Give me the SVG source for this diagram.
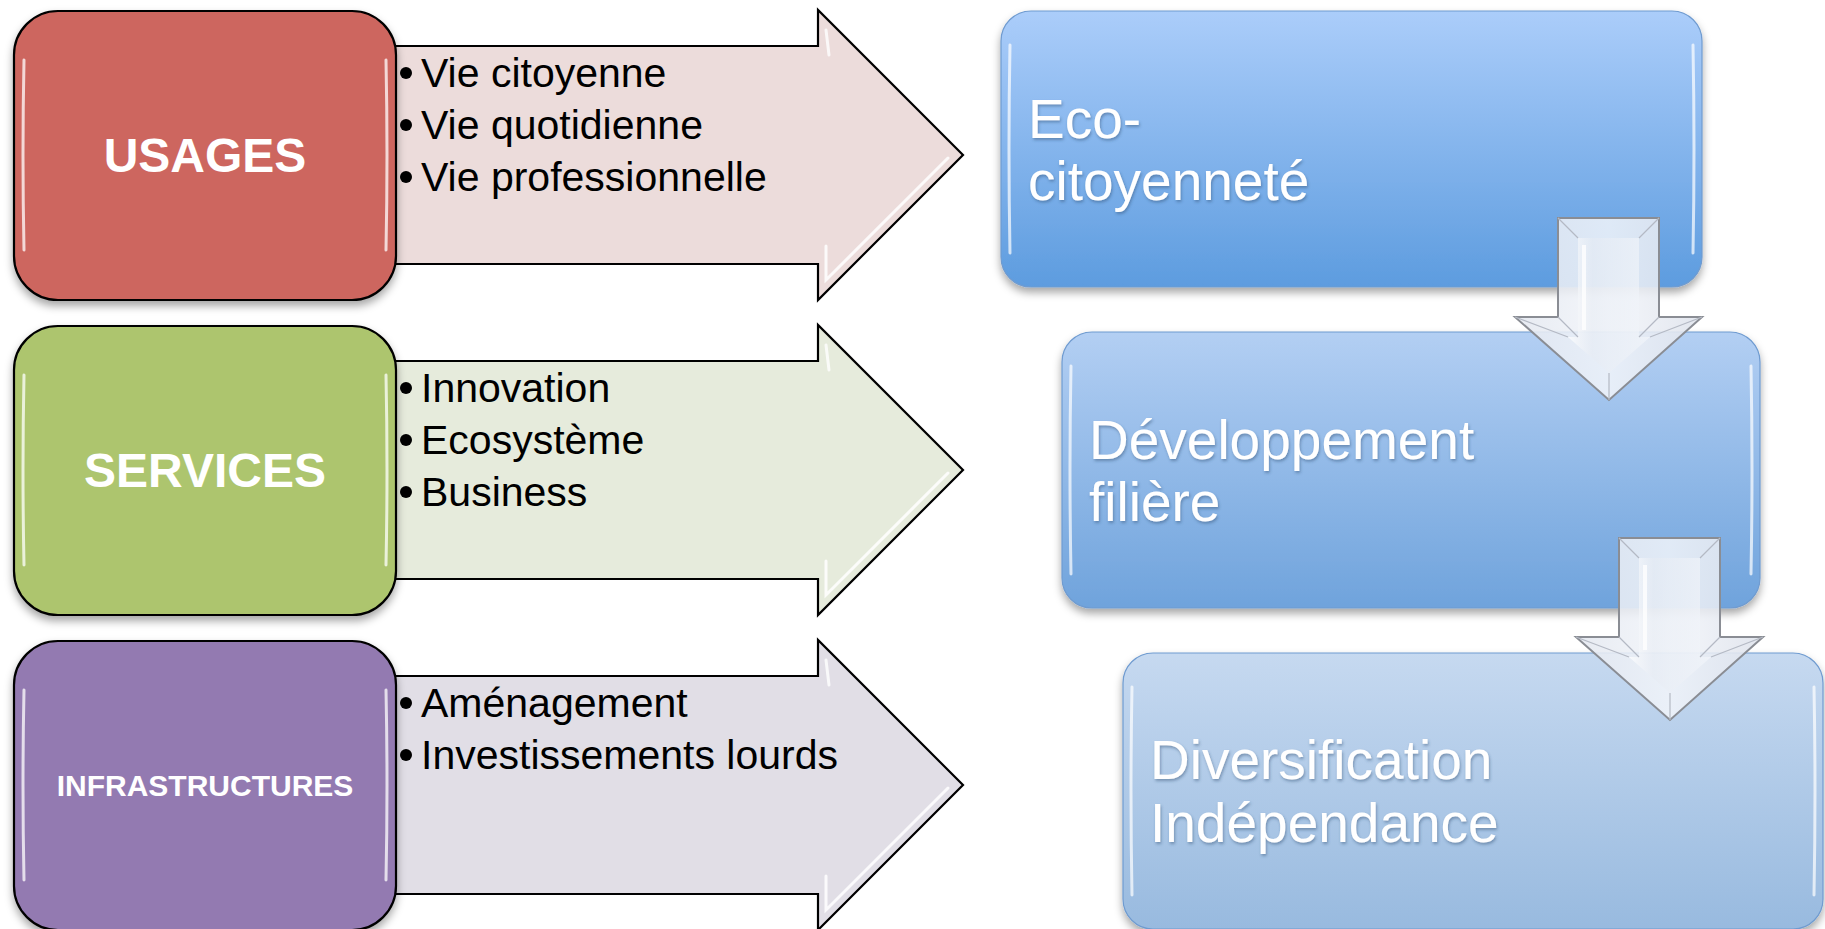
<svg xmlns="http://www.w3.org/2000/svg" width="1825" height="929" viewBox="0 0 1825 929">
<style>
.lbl{font-family:"Liberation Sans",Arial,sans-serif;font-weight:bold;fill:#ffffff;text-anchor:middle}
.blt{font-family:"Liberation Sans",Arial,sans-serif;font-size:41px;fill:#000000}
.big{font-family:"Liberation Sans",Arial,sans-serif;font-size:55px;fill:#ffffff}
.box{stroke:#000000;stroke-width:2.2}
.arr{stroke:#000000;stroke-width:2.2;stroke-linejoin:miter}
.gl{fill:none;stroke:#ffffff;stroke-linecap:round}
.bbox{stroke:#6f9bd0;stroke-width:1.2}
.darr{fill:url(#gArrow);stroke:#8a8d94;stroke-width:2;stroke-linejoin:miter}
.bev{fill:none;stroke:#b4b9c4;stroke-width:1.2}
</style>
<defs>
<filter id="sh" x="-10%" y="-10%" width="120%" height="125%">
<feDropShadow dx="0" dy="5" stdDeviation="4" flood-color="#000000" flood-opacity="0.35"/>
</filter>
<filter id="tsh" x="-5%" y="-20%" width="110%" height="140%">
<feDropShadow dx="1" dy="2" stdDeviation="1.5" flood-color="#2a4a70" flood-opacity="0.45"/>
</filter>
<linearGradient id="gA" x1="0" y1="0" x2="0" y2="1">
<stop offset="0" stop-color="#abcdfa"/><stop offset="1" stop-color="#5d9cdf"/>
</linearGradient>
<linearGradient id="gB" x1="0" y1="0" x2="0" y2="1">
<stop offset="0" stop-color="#b3cff3"/><stop offset="1" stop-color="#6fa3dc"/>
</linearGradient>
<linearGradient id="gC" x1="0" y1="0" x2="0" y2="1">
<stop offset="0" stop-color="#c6d9f0"/><stop offset="1" stop-color="#98badf"/>
</linearGradient>
<linearGradient id="gArrow" x1="0" y1="0" x2="1" y2="0">
<stop offset="0" stop-color="#e4e8f0" stop-opacity="0.9"/><stop offset="0.5" stop-color="#f2f5fa" stop-opacity="0.85"/><stop offset="1" stop-color="#dfe3ec" stop-opacity="0.9"/>
</linearGradient>
<linearGradient id="gInner" x1="0" y1="0" x2="1" y2="0">
<stop offset="0" stop-color="#ffffff" stop-opacity="0.75"/><stop offset="0.3" stop-color="#e6ebf3" stop-opacity="0.55"/><stop offset="1" stop-color="#f3f6fb" stop-opacity="0.7"/>
</linearGradient>
</defs>

<g id="connectors">
<g id="arrow-usages">
<polygon class="arr" fill="#ecdcdb" points="380,46 818,46 818,10 963,155 818,300 818,264 380,264"/>
<polyline class="gl" stroke-width="3" opacity="0.85" points="826,246 826,280 948,158"/>
<line class="gl" stroke-width="3" opacity="0.8" x1="826" y1="30" x2="829" y2="55"/>
</g>
<g id="arrow-services">
<polygon class="arr" fill="#e6ebdc" points="380,361 818,361 818,325 963,470 818,615 818,579 380,579"/>
<polyline class="gl" stroke-width="3" opacity="0.85" points="826,561 826,595 948,473"/>
<line class="gl" stroke-width="3" opacity="0.8" x1="826" y1="345" x2="829" y2="370"/>
</g>
<g id="arrow-infra">
<polygon class="arr" fill="#e1dee6" points="380,676 818,676 818,640 963,785 818,930 818,894 380,894"/>
<polyline class="gl" stroke-width="3" opacity="0.85" points="826,876 826,910 948,788"/>
<line class="gl" stroke-width="3" opacity="0.8" x1="826" y1="660" x2="829" y2="685"/>
</g>
</g>

<g id="node-usages">
<rect class="box" x="14" y="11" width="382" height="289" rx="44" fill="#cd665f" filter="url(#sh)"/>
<path class="gl" stroke-width="3" opacity="0.75" d="M24,60 Q22,155 24,250"/>
<path class="gl" stroke-width="3" opacity="0.75" d="M386,60 Q388,155 386,250"/>
<text class="lbl" x="205" y="172" font-size="48">USAGES</text>
</g>
<g id="bullets-usages">
<circle cx="406" cy="73" r="6"/><text class="blt" x="421" y="87">Vie citoyenne</text>
<circle cx="406" cy="125" r="6"/><text class="blt" x="421" y="139">Vie quotidienne</text>
<circle cx="406" cy="177" r="6"/><text class="blt" x="421" y="191">Vie professionnelle</text>
</g>

<g id="node-services">
<rect class="box" x="14" y="326" width="382" height="289" rx="44" fill="#adc56e" filter="url(#sh)"/>
<path class="gl" stroke-width="3" opacity="0.75" d="M24,375 Q22,470 24,565"/>
<path class="gl" stroke-width="3" opacity="0.75" d="M386,375 Q388,470 386,565"/>
<text class="lbl" x="205" y="487" font-size="48">SERVICES</text>
</g>
<g id="bullets-services">
<circle cx="406" cy="388" r="6"/><text class="blt" x="421" y="402">Innovation</text>
<circle cx="406" cy="440" r="6"/><text class="blt" x="421" y="454">Ecosystème</text>
<circle cx="406" cy="492" r="6"/><text class="blt" x="421" y="506">Business</text>
</g>

<g id="node-infrastructures">
<rect class="box" x="14" y="641" width="382" height="289" rx="44" fill="#937ab1" filter="url(#sh)"/>
<path class="gl" stroke-width="3" opacity="0.75" d="M24,690 Q22,785 24,880"/>
<path class="gl" stroke-width="3" opacity="0.75" d="M386,690 Q388,785 386,880"/>
<text class="lbl" x="205" y="796" font-size="30">INFRASTRUCTURES</text>
</g>
<g id="bullets-infrastructures">
<circle cx="406" cy="703" r="6"/><text class="blt" x="421" y="717">Aménagement</text>
<circle cx="406" cy="755" r="6"/><text class="blt" x="421" y="769">Investissements lourds</text>
</g>

<g id="node-eco">
<rect class="bbox" x="1001" y="11" width="701" height="276" rx="30" fill="url(#gA)" filter="url(#sh)"/>
<path class="gl" stroke-width="3" opacity="0.7" d="M1010,45 Q1008,149 1010,253"/>
<path class="gl" stroke-width="3" opacity="0.7" d="M1693,45 Q1695,149 1693,253"/>
<text class="big" filter="url(#tsh)"><tspan x="1028" y="138">Eco-</tspan><tspan x="1028" y="200">citoyenneté</tspan></text>
</g>
<g id="node-dev">
<rect class="bbox" x="1062" y="332" width="698" height="276" rx="30" fill="url(#gB)" filter="url(#sh)"/>
<path class="gl" stroke-width="3" opacity="0.7" d="M1071,366 Q1069,470 1071,574"/>
<path class="gl" stroke-width="3" opacity="0.7" d="M1751,366 Q1753,470 1751,574"/>
<text class="big" filter="url(#tsh)"><tspan x="1089" y="459">Développement</tspan><tspan x="1089" y="521">filière</tspan></text>
</g>
<g id="node-div">
<rect class="bbox" x="1123" y="653" width="700" height="276" rx="30" fill="url(#gC)" filter="url(#sh)"/>
<path class="gl" stroke-width="3" opacity="0.7" d="M1132,687 Q1130,791 1132,895"/>
<path class="gl" stroke-width="3" opacity="0.7" d="M1814,687 Q1816,791 1814,895"/>
<text class="big" filter="url(#tsh)"><tspan x="1150" y="779">Diversification</tspan><tspan x="1150" y="842">Indépendance</tspan></text>
</g>

<g id="flow-arrows">
<g id="down-arrow-1">
<polygon class="darr" points="1558,218 1659,218 1659,317 1702,317 1609,400 1515,317 1558,317"/>
<polygon fill="url(#gInner)" points="1578,238 1639,238 1639,337 1650,337 1609,373 1568,337 1578,337"/>
<path class="bev" d="M1558,218 L1578,238 M1659,218 L1639,238 M1558,317 L1578,337 M1659,317 L1639,337 M1515,317 L1568,337 M1702,317 L1650,337 M1609,400 L1609,373"/>
<line x1="1584" y1="245" x2="1584" y2="330" stroke="#ffffff" stroke-width="4" opacity="0.8"/>
</g>
<g id="down-arrow-2">
<polygon class="darr" points="1619,538 1720,538 1720,637 1763,637 1670,720 1576,637 1619,637"/>
<polygon fill="url(#gInner)" points="1639,558 1700,558 1700,657 1711,657 1670,693 1629,657 1639,657"/>
<path class="bev" d="M1619,538 L1639,558 M1720,538 L1700,558 M1619,637 L1639,657 M1720,637 L1700,657 M1576,637 L1629,657 M1763,637 L1711,657 M1670,720 L1670,693"/>
<line x1="1645" y1="565" x2="1645" y2="650" stroke="#ffffff" stroke-width="4" opacity="0.8"/>
</g>
</g>
</svg>
